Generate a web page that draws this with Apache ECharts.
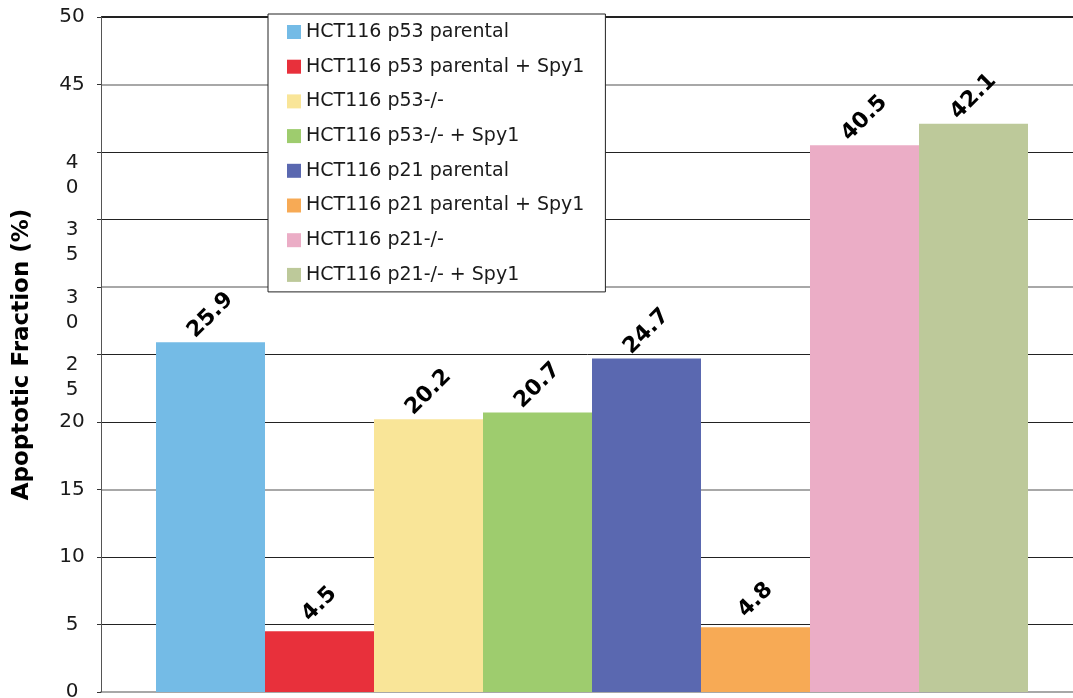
<!DOCTYPE html>
<html>
<head>
<meta charset="utf-8">
<script src="https://cdn.jsdelivr.net/npm/echarts@6/dist/echarts.min.js"></script>
<style>
  html, body { margin: 0; padding: 0; background: #fff; }
  #chart { width: 1073px; height: 698px; }
</style>
</head>
<body>
<div id="chart"></div>
<script>
// Cell lines / treatments, one bar each
const seriesNames = [
  'HCT116 p53 parental',
  'HCT116 p53 parental + Spy1',
  'HCT116 p53-/-',
  'HCT116 p53-/- + Spy1',
  'HCT116 p21 parental',
  'HCT116 p21 parental + Spy1',
  'HCT116 p21-/-',
  'HCT116 p21-/- + Spy1'
];
// Apoptotic fraction (%)
const apoptoticValues = [25.9, 4.5, 20.2, 20.7, 24.7, 4.8, 40.5, 42.1];
const barColors = ['#74BBE6', '#E8303B', '#F9E598', '#9ECC6E', '#5A68B0', '#F7AA55', '#EBADC6', '#BDC99A'];
// Y-axis tick labels (0 to 50, step 5)
const yTickLabels = ['0', '5', '10', '15', '20', '2\n5', '3\n0', '3\n5', '4\n0', '45', '50'];

const FONT = 'DejaVu Sans';

const chart = echarts.init(document.getElementById('chart'), null, { renderer: 'canvas' });

const series = seriesNames.map((name, i) => ({
  name: name,
  type: 'bar',
  yAxisIndex: 0,
  data: [apoptoticValues[i]],
  barWidth: 109,
  barGap: '0%',
  itemStyle: { color: barColors[i] },
  label: {
    show: true,
    position: 'top',
    distance: 27,
    rotate: 45,
    align: 'center',
    verticalAlign: 'middle',
    fontFamily: FONT,
    fontWeight: 'bold',
    fontSize: 22,
    color: '#000',
    formatter: (p) => p.value.toFixed(1)
  }
}));

chart.setOption({
  animation: false,
  backgroundColor: '#fff',
  grid: { left: 101, right: -10, top: 17, bottom: 6, containLabel: false, outerBoundsMode: 'none' },
  legend: {
    orient: 'vertical',
    left: 268,
    top: 14,
    padding: [8, 21, 7, 19],
    itemWidth: 14,
    itemHeight: 14,
    itemGap: 14.7,
    backgroundColor: '#fff',
    borderColor: '#222',
    borderWidth: 1,
    borderRadius: 0,
    icon: 'rect',
    textStyle: {
      fontFamily: FONT,
      fontSize: 19,
      lineHeight: 20,
      color: '#1a1a1a'
    },
    data: seriesNames
  },
  xAxis: {
    type: 'category',
    data: [''],
    axisLine: { show: true, lineStyle: { color: '#aaa', width: 2 } },
    axisTick: { show: false },
    axisLabel: { show: false },
    splitLine: { show: false }
  },
  yAxis: [
    {
      type: 'value',
      min: 0,
      max: 50,
      interval: 5,
      name: 'Apoptotic Fraction (%)',
      nameLocation: 'middle',
      nameGap: 67,
      nameTextStyle: {
        fontFamily: FONT,
        fontWeight: 'bold',
        fontSize: 23,
        color: '#000'
      },
      axisLine: { show: true, lineStyle: { color: '#555', width: 1 } },
      axisTick: { show: true, length: 4, lineStyle: { color: '#333' } },
      axisLabel: {
        margin: 29,
        align: 'center',
        fontFamily: FONT,
        fontSize: 20,
        color: '#1a1a1a',
        formatter: (v) => {
          const s = yTickLabels[Math.round(v / 5)];
          return s.indexOf('\n') >= 0 ? '{w|' + s + '}' : s;
        },
        rich: {
          w: {
            fontFamily: FONT,
            fontSize: 20,
            lineHeight: 25,
            color: '#1a1a1a',
            align: 'center',
            padding: [46, 0, 0, 0]
          }
        }
      },
      splitLine: {
        show: true,
        // every third line is drawn by the second axis in a lighter, wider stroke
        lineStyle: { color: ['transparent', '#222', '#222'], width: 1 }
      },
      z: 2
    },
    {
      // lighter gridlines at 0, 15, 30, 45 (plus the top edge)
      type: 'value',
      min: 0,
      max: 50,
      interval: 15,
      position: 'left',
      axisLine: { show: false },
      axisTick: { show: false },
      axisLabel: { show: false },
      splitLine: {
        show: true,
        lineStyle: { color: ['#a8a8a8', '#a8a8a8', '#a8a8a8', '#a8a8a8', '#222'], width: 2 }
      },
      z: 1
    }
  ],
  series: series
});
</script>
</body>
</html>
